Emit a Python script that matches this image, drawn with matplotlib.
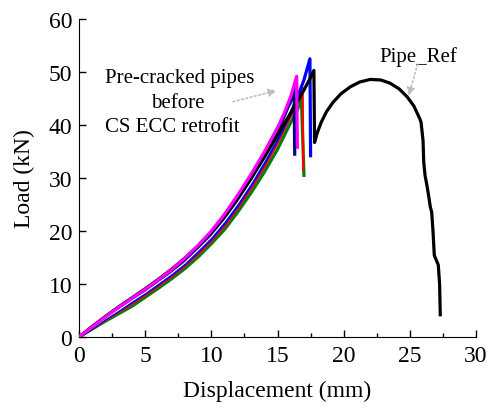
import matplotlib.pyplot as plt
from matplotlib.ticker import MultipleLocator

plt.rcParams["font.family"] = ["Liberation Serif", "DejaVu Serif"]

# pre-cracked pipes, load vs displacement (mm, kN)
mag_x = [0, 1, 2, 3, 4, 5, 6, 7, 8, 9, 10, 11, 12, 13, 14, 15, 15.5, 16, 16.45, 16.5]
mag_y = [0, 1.9, 3.8, 5.6, 7.3, 9.0, 10.8, 12.7, 14.9, 17.3, 20.0, 23.2, 26.8,
         30.7, 34.9, 39.5, 42.2, 45.4, 49.2, 35.8]

navy_x = [0, 1, 2, 3, 4, 5, 6, 7, 8, 9, 10, 11, 12, 13, 14, 15, 15.5, 16, 16.25, 16.3]
navy_y = [0, 1.8, 3.6, 5.3, 7.0, 8.6, 10.4, 12.3, 14.3, 16.7, 19.3, 22.4, 25.9,
          29.7, 33.9, 38.4, 41.2, 44.5, 47.2, 34.5]

white_x = [0.5, 1, 2, 3, 4, 5, 6, 7, 8, 9, 10, 11, 12, 13, 14, 15, 15.5, 16]
white_y = [0.8, 1.7, 3.5, 5.1, 6.8, 8.4, 10.2, 12.0, 14.0, 16.4, 18.9, 21.9,
           25.3, 29.1, 33.3, 37.8, 40.5, 43.5]

blue_x = [0, 1, 2, 3, 4, 5, 6, 7, 8, 9, 10, 11, 12, 13, 14, 15, 16, 16.5, 17,
          17.45, 17.5]
blue_y = [0, 1.7, 3.4, 5.0, 6.6, 8.3, 10.0, 11.8, 13.8, 16.1, 18.6, 21.5, 24.9,
          28.7, 32.8, 37.3, 42.3, 45.2, 48.5, 52.5, 34.2]

red_x = [0, 1, 2, 3, 4, 5, 6, 7, 8, 9, 10, 11, 12, 13, 14, 15, 16, 16.5, 16.9, 16.95]
red_y = [0, 1.6, 3.2, 4.7, 6.2, 7.9, 9.6, 11.4, 13.4, 15.6, 18.1, 20.9, 24.3,
         28.0, 32.0, 36.5, 41.6, 44.5, 47.0, 31.5]

green_x = [0, 1, 2, 3, 4, 5, 6, 7, 8, 9, 10, 11, 12, 13, 14, 15, 16, 16.5, 16.8, 17.0]
green_y = [0, 1.5, 3.0, 4.4, 5.8, 7.5, 9.2, 11.0, 12.9, 15.1, 17.6, 20.3, 23.6,
           27.2, 31.1, 35.4, 40.5, 42.8, 45.2, 30.5]

# reference pipe
ref_x = [0, 1, 2, 3, 4, 5, 6, 7, 8, 9, 10, 11, 12, 13, 14, 15, 16, 16.5, 17,
         17.4, 17.75, 17.8, 18.0, 18.3, 18.7, 19.2, 19.8, 20.5, 21.2, 22.0,
         22.8, 23.5, 24.2, 24.8, 25.3, 25.75, 25.85, 26.0, 26.05, 26.15, 26.3,
         26.45, 26.55, 26.65, 26.75, 26.85, 27.0, 27.15, 27.25, 27.3]
ref_y = [0, 2.0, 3.9, 5.7, 7.4, 9.1, 10.9, 12.8, 14.9, 17.2, 19.8, 22.8, 26.2,
         29.9, 33.9, 38.1, 42.3, 44.4, 46.6, 48.5, 50.3, 36.7, 38.5, 40.5, 42.5,
         44.3, 45.9, 47.2, 48.1, 48.6, 48.5, 47.9, 46.8, 45.3, 43.6, 41.2, 40.5,
         37.0, 33.0, 30.5, 28.5, 26.2, 24.5, 23.6, 20.0, 15.4, 14.5, 13.6, 10.0,
         4.2]

fig = plt.figure(figsize=(4.89, 4.10), dpi=100)
ax = fig.add_axes([0.1616, 0.1756, 0.8118, 0.7756])

lw = 2.3
ax.plot(green_x, green_y, color="green", lw=lw, zorder=3)
ax.plot(red_x, red_y, color="red", lw=1.6, zorder=4)
ax.plot(blue_x, blue_y, color="blue", lw=lw, zorder=5)
ax.plot(navy_x, navy_y, color="navy", lw=lw, zorder=6)
ax.plot(white_x, white_y, color="white", lw=0.9, zorder=6.5)
ax.plot(ref_x, ref_y, color="black", lw=lw, zorder=7)
ax.plot(mag_x, mag_y, color="magenta", lw=lw, zorder=8)

ax.set_xlim(0, 30)
ax.set_ylim(0, 60)
ax.xaxis.set_major_locator(MultipleLocator(5))
ax.xaxis.set_minor_locator(MultipleLocator(2.5))
ax.yaxis.set_major_locator(MultipleLocator(10))
ax.tick_params(which="both", direction="in", labelsize=17, width=1)
ax.tick_params(which="major", length=5)
ax.tick_params(which="minor", length=3)
ax.tick_params(axis="x", pad=6)
ax.tick_params(axis="y", pad=5)
ax.spines["top"].set_visible(False)
ax.spines["right"].set_visible(False)

ax.set_xlabel("Displacement (mm)", fontsize=17, labelpad=10)
ax.set_ylabel("Load (kN)", fontsize=17, labelpad=10)

ax.text(1.97, 48.1, "Pre-cracked pipes", fontsize=15, ha="left", va="baseline")
ax.text(7.48, 43.4, "before", fontsize=15, ha="center", va="baseline")
ax.text(1.97, 38.9, "CS ECC retrofit", fontsize=15, ha="left", va="baseline")
ax.text(22.7, 52.1, "Pipe_Ref", fontsize=15, ha="left", va="baseline")

arrow = dict(arrowstyle="-|>", linestyle=":", color="#bdbdbd", lw=1.2,
             mutation_scale=12, shrinkA=0, shrinkB=0)
ax.annotate("", xy=(14.94, 46.5), xytext=(11.64, 44.4), arrowprops=arrow)
ax.annotate("", xy=(24.9, 45.5), xytext=(25.59, 51.5), arrowprops=arrow)

fig.savefig("out.png", dpi=100)
